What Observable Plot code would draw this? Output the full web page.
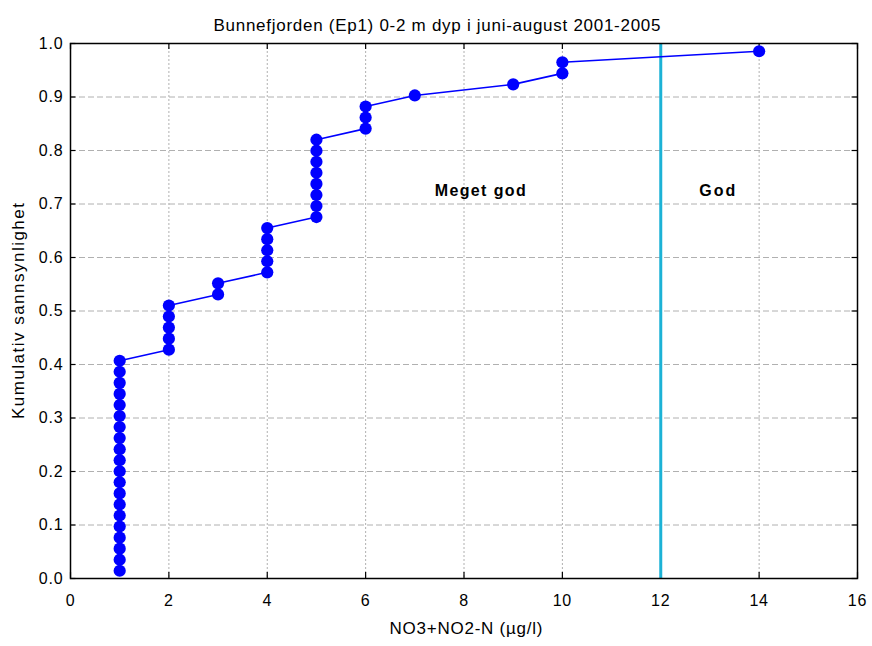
<!DOCTYPE html>
<html>
<head>
<meta charset="utf-8">
<script src="https://cdn.jsdelivr.net/npm/d3@7"></script>
<script src="https://cdn.jsdelivr.net/npm/@observablehq/plot@0.6"></script>
<style>
  html, body { margin: 0; padding: 0; background: #fff; }
  #chart svg { display: block; }
</style>
</head>
<body>
<div id="chart"></div>
<script>
const chartTitle = "Bunnefjorden (Ep1) 0-2 m dyp i juni-august 2001-2005";
const xLabel = "NO3+NO2-N (µg/l)";
const yLabel = "Kumulativ sannsynlighet";

const concentration = [
  1,1,1,1,1,1,1,1,1,1,1,1,1,1,1,1,1,1,1,1,
  2,2,2,2,2,
  3,3,
  4,4,4,4,4,
  5,5,5,5,5,5,5,5,
  6,6,6,
  7,
  9,
  10,10,
  14
];
const cumProb = [
  0.0145,0.0351,0.0558,0.0764,0.0971,0.1178,0.1384,0.1591,0.1798,0.2004,
  0.2211,0.2417,0.2624,0.2831,0.3037,0.3244,0.3450,0.3657,0.3864,0.4070,
  0.4277,0.4483,0.4690,0.4897,0.5103,
  0.5310,0.5517,
  0.5723,0.5930,0.6136,0.6343,0.6550,
  0.6756,0.6963,0.7169,0.7376,0.7583,0.7789,0.7996,0.8202,
  0.8409,0.8616,0.8822,
  0.9029,
  0.9236,
  0.9442,0.9649,
  0.9855
];
const xTicks = [0,2,4,6,8,10,12,14,16];
const yTicks = [0,0.1,0.2,0.3,0.4,0.5,0.6,0.7,0.8,0.9,1.0];
const classLimit = [12];
const classLabels = ["Meget god", "God"];
const classLabelX = [8.33, 13.15];
const classLabelY = [0.725, 0.725];

const points = concentration.map((x, i) => ({x, y: cumProb[i]}));
const labels = classLabels.map((t, i) => ({t, x: classLabelX[i], y: classLabelY[i]}));

const font = "'Liberation Sans', Arial, sans-serif";

const plot = Plot.plot({
  width: 872,
  height: 646,
  marginTop: 43,
  marginLeft: 70,
  marginRight: 15,
  marginBottom: 68,
  style: {fontFamily: font, fontSize: "16px", color: "#000", background: "#fff"},
  x: {domain: [0, 16]},
  y: {domain: [0, 1]},
  marks: [
    Plot.gridX(xTicks.slice(1, -1), {stroke: "#b0b0b0", strokeOpacity: 1, strokeDasharray: "2,2"}),
    Plot.gridY(yTicks.slice(1, -1), {stroke: "#b0b0b0", strokeOpacity: 1, strokeDasharray: "6,3"}),
    Plot.ruleX(xTicks, {x: d => d, y1: 0, y2: 0.011, stroke: "#000", strokeWidth: 1.2}),
    Plot.ruleX(xTicks, {x: d => d, y1: 1, y2: 0.989, stroke: "#000", strokeWidth: 1.2}),
    Plot.ruleY(yTicks, {y: d => d, x1: 0, x2: 0.11, stroke: "#000", strokeWidth: 1.2}),
    Plot.ruleY(yTicks, {y: d => d, x1: 16, x2: 15.89, stroke: "#000", strokeWidth: 1.2}),
    Plot.axisX(xTicks, {tickSize: 0, tickPadding: 16, fontSize: 16, label: null}),
    Plot.axisY(yTicks, {tickSize: 0, tickPadding: 7, fontSize: 16, tickFormat: d3.format(".1f"), label: null}),
    Plot.text([xLabel], {frameAnchor: "bottom", dy: 55, dx: 2, fontSize: 17, textAnchor: "middle"}),
    Plot.text([yLabel], {frameAnchor: "left", dx: -52, rotate: -90, fontSize: 17, textAnchor: "middle"}),
    Plot.ruleX(classLimit, {x: d => d, y1: 0, y2: 1, stroke: "#1cb2d6", strokeWidth: 3}),
    Plot.line(points, {x: "x", y: "y", stroke: "#0000ff", strokeWidth: 1.6}),
    Plot.dot(points, {x: "x", y: "y", r: 6.1, fill: "#0000ff", stroke: "none"}),
    Plot.text(labels, {x: "x", y: "y", text: "t", fontWeight: "bold", fontSize: 16}),
    Plot.text([chartTitle], {frameAnchor: "top", dy: -25, dx: -27, fontSize: 17, textAnchor: "middle"}),
    Plot.frame({stroke: "#000", strokeWidth: 1.5})
  ]
});
const fitLength = new Map([
  [chartTitle, 447],
  [xLabel, 153],
  [yLabel, 216],
  ["Meget god", 91],
  ["God", 36]
]);
d3.select(plot).selectAll("text").each(function() {
  const t = this.textContent;
  if (fitLength.has(t)) {
    this.setAttribute("textLength", fitLength.get(t));
    this.setAttribute("lengthAdjust", "spacing");
  } else if (/^[0-9.]+$/.test(t)) {
    this.style.letterSpacing = "0.8px";
  }
});
document.getElementById("chart").appendChild(plot);
</script>
</body>
</html>
